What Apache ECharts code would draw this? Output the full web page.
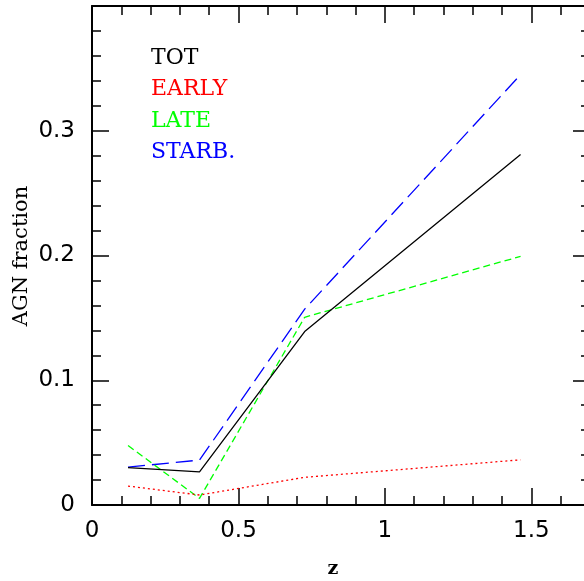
<!DOCTYPE html>
<html>
<head>
<meta charset="utf-8">
<script src="https://cdn.jsdelivr.net/npm/echarts@6/dist/echarts.min.js"></script>
<style>
html,body{margin:0;padding:0;background:#fff;}
#chart{width:584px;height:581px;}
</style>
</head>
<body>
<div id="chart"></div>
<script>
// ---- data ----
var zValues = [0.123, 0.367, 0.726, 1.463];
var totValues = [0.030, 0.0265, 0.139, 0.281];
var earlyValues = [0.0152, 0.008, 0.0222, 0.0362];
var lateValues = [0.0477, 0.0053, 0.1505, 0.1993];
var starbValues = [0.0304, 0.036, 0.157, 0.345];
var seriesNames = ['TOT', 'EARLY', 'LATE', 'STARB.'];
var xTickLabels = ['0', '0.5', '1', '1.5'];
var yTickLabels = ['0', '0.1', '0.2', '0.3'];
var xTitle = 'z';
var yTitle = 'AGN fraction';

// ---- styles ----
var colors = ['#000000', '#ff0000', '#00ff00', '#0000ff'];
var dashes = ['solid', [2, 3], [7, 4], [17, 7]];
var allValues = [totValues, earlyValues, lateValues, starbValues];

function pairs(xs, ys) { return xs.map(function (x, i) { return [x, ys[i]]; }); }

var tickFont = { fontFamily: 'DejaVu Sans', fontSize: 23, color: '#000' };

function xAxisDef(pos, interval, len, showLabel) {
  return {
    type: 'value', position: pos, min: 0, max: 1.7, interval: interval,
    axisLine: { show: interval === 0.5, onZero: false, lineStyle: { color: '#000', width: 2 } },
    axisTick: { show: true, inside: true, length: len, lineStyle: { color: '#000', width: 1.5 } },
    splitLine: { show: false },
    axisLabel: showLabel ? Object.assign({
      show: true, margin: 15, showMaxLabel: false,
      formatter: function (v) {
        var s = String(Math.round(v * 10) / 10);
        return xTickLabels.indexOf(s) >= 0 ? s : '';
      }
    }, tickFont) : { show: false }
  };
}

function yAxisDef(pos, showLabel) {
  return {
    type: 'value', position: pos, min: 0, max: 0.4, interval: 0.1,
    axisLine: { show: true, onZero: false, lineStyle: { color: '#000', width: 2 } },
    axisTick: { show: true, inside: true, length: 17, lineStyle: { color: '#000', width: 1.5 } },
    minorTick: { show: true, splitNumber: 5, length: 9, lineStyle: { color: '#000', width: 1.5 } },
    splitLine: { show: false },
    axisLabel: showLabel ? Object.assign({
      show: true, margin: 17, showMaxLabel: false,
      formatter: function (v) {
        var s = String(Math.round(v * 10) / 10);
        return yTickLabels.indexOf(s) >= 0 ? s : '';
      }
    }, tickFont) : { show: false }
  };
}

var series = seriesNames.map(function (name, i) {
  return {
    name: name, type: 'line', xAxisIndex: 0, yAxisIndex: 0,
    data: pairs(zValues, allValues[i]),
    showSymbol: false, symbol: 'none', animation: false,
    lineStyle: { color: colors[i], width: 1.3, type: dashes[i] },
    z: 5 - i
  };
});

var graphics = seriesNames.map(function (name, i) {
  return {
    type: 'text', left: 151, top: 47 + i * 31.5,
    style: { text: name, fill: colors[i], font: '22px "DejaVu Serif"' }
  };
});
graphics.push({
  type: 'text', x: 22, y: 256, rotation: Math.PI / 2,
  style: { text: yTitle, fill: '#000', font: '21px "DejaVu Serif"', textAlign: 'center', textVerticalAlign: 'middle' }
});
graphics.push({
  type: 'text', x: 333, y: 569,
  style: { text: xTitle, fill: '#000', font: 'bold 19px "DejaVu Serif"', textAlign: 'center', textVerticalAlign: 'middle' }
});

var chart = echarts.init(document.getElementById('chart'), null, { renderer: 'canvas' });
chart.setOption({
  animation: false,
  backgroundColor: '#fff',
  grid: { left: 92, top: 6, width: 498, height: 499, containLabel: false, outerBoundsMode: 'none' },
  xAxis: [
    xAxisDef('bottom', 0.5, 17, true),
    xAxisDef('bottom', 0.1, 9, false),
    xAxisDef('top', 0.5, 17, false),
    xAxisDef('top', 0.1, 9, false)
  ],
  yAxis: [yAxisDef('left', true), yAxisDef('right', false)],
  series: series,
  graphic: graphics
});
</script>
</body>
</html>
